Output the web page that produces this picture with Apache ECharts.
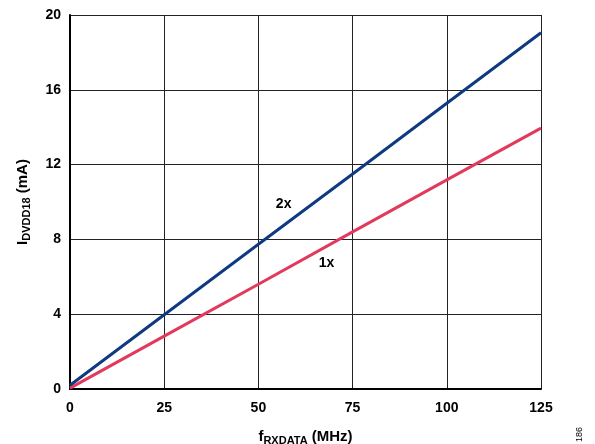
<!DOCTYPE html>
<html><head><meta charset="utf-8">
<script src="https://cdn.jsdelivr.net/npm/echarts@6/dist/echarts.min.js"></script>
<style>html,body{margin:0;padding:0;background:#fff;overflow:hidden}#c{width:595px;height:444px}</style>
</head><body><div id="c"></div>
<script>
const xTicks = [0, 25, 50, 75, 100, 125];
const yTicks = [0, 4, 8, 12, 16, 20];
const freq = [0, 25, 50, 75, 100, 125];
const current2x = [0.2, 3.97, 7.74, 11.5, 15.28, 19.05];
const current1x = [0.05, 2.83, 5.6, 8.4, 11.18, 13.95];
const label2x = [56.7, 9.9];
const label1x = [68.1, 6.74];

const FONT = '"Liberation Sans", Arial, sans-serif';
const chart = echarts.init(document.getElementById('c'), null, {renderer: 'canvas', width: 595, height: 444});
chart.setOption({
  animation: false,
  backgroundColor: '#fff',
  grid: {left: 70, right: 54, top: 15, bottom: 55, containLabel: false, outerBoundsMode: 'none'},
  xAxis: {
    type: 'value', min: 0, max: 125, interval: 25,
    axisLine: {show: true, onZero: false, lineStyle: {color: '#000', width: 2}},
    axisTick: {show: false},
    splitLine: {show: true, lineStyle: {color: '#222', width: 1}},
    axisLabel: {color: '#000', fontFamily: FONT, fontWeight: 'bold', fontSize: 14, margin: 12},
    name: '{f|f}{s|RXDATA}{f| (MHz)}',
    nameLocation: 'middle', nameGap: 38,
    nameTextStyle: {rich: {
      f: {fontFamily: FONT, fontWeight: 'bold', fontSize: 15, color: '#000'},
      s: {fontFamily: FONT, fontWeight: 'bold', fontSize: 11, color: '#000', verticalAlign: 'bottom', padding: [8, 0, 0, 0]}
    }}
  },
  yAxis: {
    type: 'value', min: 0, max: 20, interval: 4,
    axisLine: {show: true, lineStyle: {color: '#000', width: 2}},
    axisTick: {show: false},
    splitLine: {show: true, lineStyle: {color: '#222', width: 1}},
    axisLabel: {color: '#000', fontFamily: FONT, fontWeight: 'bold', fontSize: 14, margin: 9},
    name: '{f|I}{s|DVDD18}{f| (mA)}',
    nameLocation: 'middle', nameGap: 38, nameRotate: 90,
    nameTextStyle: {rich: {
      f: {fontFamily: FONT, fontWeight: 'bold', fontSize: 15, color: '#000'},
      s: {fontFamily: FONT, fontWeight: 'bold', fontSize: 11, color: '#000', verticalAlign: 'bottom', padding: [8, 0, 0, 0]}
    }}
  },
  series: [
    {
      type: 'line', name: '2x', data: freq.map((f, i) => [f, current2x[i]]),
      showSymbol: false, lineStyle: {color: '#0f3a82', width: 3}, z: 5,
      markPoint: {symbolSize: 0, data: [{coord: label2x, value: '2x'}],
        label: {show: true, formatter: '2x', color: '#000', fontFamily: FONT, fontWeight: 'bold', fontSize: 14}}
    },
    {
      type: 'line', name: '1x', data: freq.map((f, i) => [f, current1x[i]]),
      showSymbol: false, lineStyle: {color: '#e23a5c', width: 3}, z: 4,
      markPoint: {symbolSize: 0, data: [{coord: label1x, value: '1x'}],
        label: {show: true, formatter: '1x', color: '#000', fontFamily: FONT, fontWeight: 'bold', fontSize: 14}}
    }
  ],
  graphic: [{
    type: 'text', left: 575, top: 427, rotation: Math.PI / 2,
    style: {text: '186', fill: '#000', font: '9px ' + FONT}
  }]
});
</script></body></html>
